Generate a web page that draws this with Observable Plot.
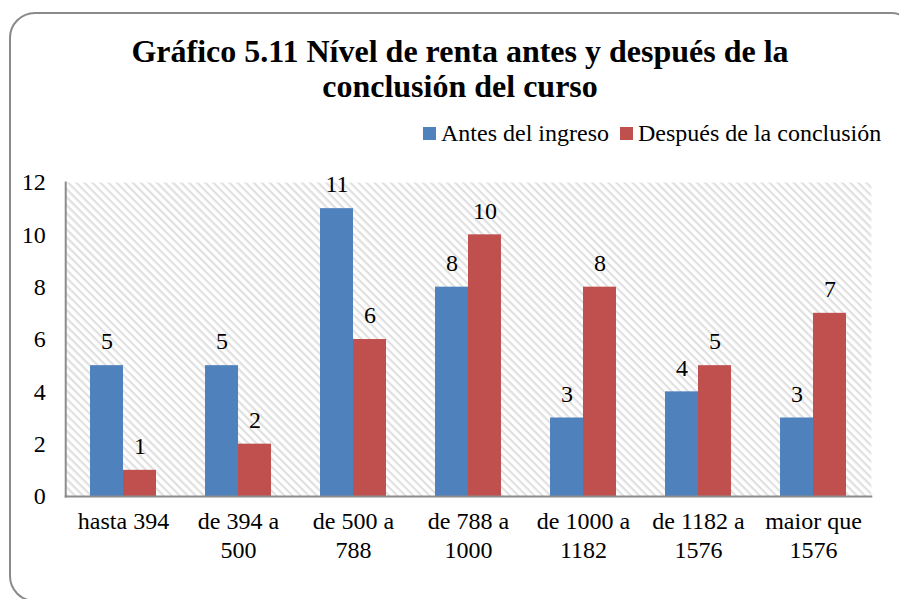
<!DOCTYPE html>
<html>
<head>
<meta charset="utf-8">
<script src="https://cdn.jsdelivr.net/npm/d3@7"></script>
<script src="https://cdn.jsdelivr.net/npm/@observablehq/plot@0.6"></script>
<style>
  html, body { margin: 0; padding: 0; background: #fff; }
  #wrap { position: relative; width: 899px; height: 599px; overflow: hidden; font-family: "Liberation Serif", "Times New Roman", serif; color: #000; }
  #border { position: absolute; left: 9px; top: 12px; width: 908px; height: 590px; border: 2px solid #8a8a8a; border-radius: 26px; box-sizing: border-box; }
  #title { position: absolute; left: 0; width: 920px; top: 34px; text-align: center; font-weight: bold; font-size: 32px; line-height: 35px; }
  #legend { position: absolute; left: 423px; top: 119px; height: 28px; display: flex; align-items: center; font-size: 24px; white-space: nowrap; }
  #legend .sw { display: inline-block; width: 13px; height: 13px; margin-right: 5px; }
  #legend .item { display: flex; align-items: center; margin-right: 11px; }
  #chart { position: absolute; left: 0; top: 0; }
</style>
</head>
<body>
<div id="wrap">
  <div id="border"></div>
  <div id="chart"></div>
  <div id="title">Gráfico 5.11 Nível de renta antes y después de la<br>conclusión del curso</div>
  <div id="legend"></div>
</div>
<script>
const categories = ["hasta 394", "de 394 a\n500", "de 500 a\n788", "de 788 a\n1000", "de 1000 a\n1182", "de 1182 a\n1576", "maior que\n1576"];
const seriesNames = ["Antes del ingreso", "Después de la conclusión"];
const antes = [5, 5, 11, 8, 3, 4, 3];
const despues = [1, 2, 6, 10, 8, 5, 7];
const yTicks = [0, 2, 4, 6, 8, 10, 12];
const colors = ["#4F81BD", "#C0504D"];

const data = [];
categories.forEach((c, i) => {
  data.push({cat: c, series: seriesNames[0], value: antes[i]});
  data.push({cat: c, series: seriesNames[1], value: despues[i]});
});

// legend
const legend = document.getElementById("legend");
seriesNames.forEach((s, i) => {
  const item = document.createElement("div");
  item.className = "item";
  item.innerHTML = `<span class="sw" style="background:${colors[i]}"></span><span>${s}</span>`;
  legend.appendChild(item);
});

const W = 899, H = 599, mL = 64, mR = 28, mT = 182, mB = 103;
const pIn = 0.43, pOut = 0.215;
// outer padding of the fx band scale (super-facet frames span only the bands)
const step = (W - mL - mR) / (categories.length - pIn + 2 * pOut);
const outer = pOut * step;

const plot = Plot.plot({
  width: W,
  height: H,
  marginLeft: mL,
  marginRight: mR,
  marginTop: mT,
  marginBottom: mB,
  style: {fontFamily: "'Liberation Serif', 'Times New Roman', serif", fontSize: "24px", background: "transparent", color: "#000"},
  fx: {domain: categories, paddingInner: pIn, paddingOuter: pOut, label: null},
  x: {domain: seriesNames, padding: 0, axis: null},
  y: {domain: [0, 12], label: null},
  color: {domain: seriesNames, range: colors},
  marks: [
    Plot.frame({facet: "super", fill: "url(#hatch)", stroke: null, insetLeft: -outer, insetRight: -outer}),
    Plot.barY(data, {fx: "cat", x: "series", y: "value", fill: "series"}),
    Plot.text(data, {fx: "cat", x: "series", y: "value", text: d => String(d.value), dy: -24, fontSize: 24, fill: "#000"}),
    Plot.axisY(yTicks, {tickSize: 0, tickPadding: 20 + outer, fontSize: 24, label: null, fill: "#000"}),
    Plot.axisFx({anchor: "bottom", tickSize: 0, tickPadding: 12, fontSize: 24, lineHeight: 1.2, label: null, fill: "#000"}),
    Plot.frame({facet: "super", anchor: "bottom", stroke: "#8c8c8c", strokeWidth: 2, insetLeft: -outer, insetRight: -outer}),
    Plot.frame({facet: "super", anchor: "left", stroke: "#8c8c8c", strokeWidth: 2, insetLeft: -outer})
  ]
});

const svg = d3.select(plot);
const defs = svg.insert("defs", ":first-child");
const pat = defs.append("pattern")
  .attr("id", "hatch")
  .attr("patternUnits", "userSpaceOnUse")
  .attr("width", 5.7).attr("height", 5.7)
  .attr("patternTransform", "rotate(45)");
pat.append("rect").attr("width", 5.7).attr("height", 5.7).attr("fill", "#ffffff");
pat.append("rect").attr("width", 5.7).attr("height", 2.2).attr("fill", "#e0e0e0");

document.getElementById("chart").appendChild(plot);
</script>
</body>
</html>
